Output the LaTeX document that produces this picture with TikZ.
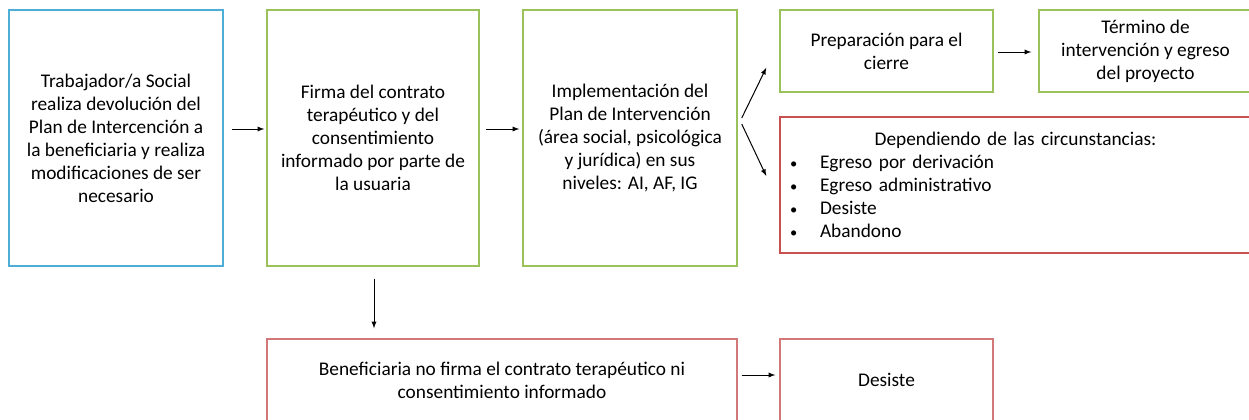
\documentclass[tikz,border=0pt]{standalone}
\usepackage{fontspec}
\setmainfont{Carlito}
\usetikzlibrary{calc}
\definecolor{azul}{RGB}{79,174,214}
\definecolor{verde}{RGB}{155,194,90}
\definecolor{rojo}{RGB}{200,80,80}
\definecolor{rosa}{RGB}{210,120,120}
\newcommand{\vineta}{\hspace*{7.5pt}\makebox[22.5pt][l]{\scalebox{0.75}{\textbullet}}}
\tikzset{
  caja/.style={draw,rectangle,line width=1.1pt,inner sep=0pt,align=center},
  lista/.style={draw,rectangle,line width=1.1pt,inner sep=0pt,text width=353.25pt,align=left},
  flecha/.style={->,line width=0.75pt}
}
\begin{document}
\begin{tikzpicture}[x=0.75pt,y=-0.75pt,>=latex,line width=0.75pt,
  font=\fontsize{14.5}{17.25}\selectfont]
\clip (0,0) rectangle (1249,419);

% fila superior
\node[caja,draw=azul,minimum width=160.5pt,minimum height=192pt] (trabajador) at (116,138)
  {Trabajador/a Social\\ realiza devolución del\\ Plan de Intercención a\\ la beneficiaria y realiza\\ modificaciones de ser\\ necesario};
\node[caja,draw=verde,minimum width=159pt,minimum height=192pt] (firma) at (373,138)
  {Firma del contrato\\ terapéutico y del\\ consentimiento\\ informado por parte de\\ la usuaria};
\node[caja,draw=verde,minimum width=160.5pt,minimum height=192pt] (implementacion) at (630,138)
  {Implementación del\\ Plan de Intervención\\ (área social, psicológica\\ y jurídica) en sus\\ niveles: AI, AF, IG};
\node[caja,draw=verde,minimum width=159.75pt,minimum height=61.5pt] (preparacion) at (886.5,51)
  {Preparación para el\\ cierre};
\node[caja,draw=verde,minimum width=159.75pt,minimum height=61.5pt] (termino) at (1145.5,51)
  {Término de\\ intervención y egreso\\ del proyecto};
\node[lista,draw=rojo,minimum height=102pt] (circunstancias) at (1015.5,185)
  {\makebox[353.25pt][c]{Dependiendo de las circunstancias:}\\
   \vineta Egreso por derivación\\
   \vineta Egreso administrativo\\
   \vineta Desiste\\
   \vineta Abandono};

% fila inferior
\node[caja,draw=rosa,minimum width=352.5pt,minimum height=61.5pt] (nofirma) at (502,380)
  {Beneficiaria no firma el contrato terapéutico ni\\ consentimiento informado};
\node[caja,draw=rosa,minimum width=159.75pt,minimum height=61.5pt] (desiste) at (886.5,380)
  {Desiste};

\draw[flecha] ($(trabajador.east)+(8,-9)$) -- ($(firma.west)+(-2,-9)$);
\draw[flecha] ($(firma.east)+(6,-9)$) -- ($(implementacion.west)+(-3,-9)$);
\draw[flecha] ($(implementacion.east)+(4,-20)$) -- ($(preparacion.south west)+(-13,-25)$);
\draw[flecha] ($(implementacion.east)+(4,-14)$) -- ($(circunstancias.west)+(-13,-9)$);
\draw[flecha] ($(preparacion.east)+(4,1)$) -- ($(termino.west)+(-7,1)$);
\draw[flecha] ($(firma.south)+(1,12)$) -- ($(nofirma.north -| firma.south)+(1,-10)$);
\draw[flecha] ($(nofirma.east)+(4,-5)$) -- ($(desiste.west)+(-4,-5)$);
\end{tikzpicture}
\end{document}
